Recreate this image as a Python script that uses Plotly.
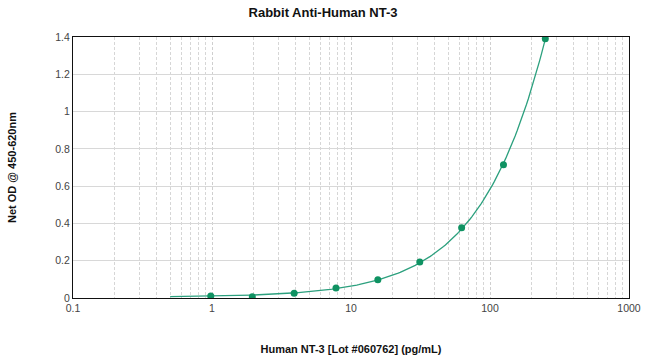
import numpy as np
import plotly.graph_objects as go

# Data
conc = [0.98, 1.95, 3.9, 7.8, 15.6, 31.25, 62.5, 125, 250]
od = [0.011, 0.007, 0.025, 0.054, 0.098, 0.193, 0.377, 0.715, 1.39]

x_ticks = [0.1, 1, 10, 100, 1000]
x_tick_labels = ["0.1", "1", "10", "100", "1000"]
y_ticks = [0, 0.2, 0.4, 0.6, 0.8, 1.0, 1.2, 1.4]
y_tick_labels = ["0", "0.2", "0.4", "0.6", "0.8", "1", "1.2", "1.4"]

# Fitted standard curve (quadratic fit of the standards)
coef = np.polyfit(conc, od, 2)
fit_x = np.logspace(np.log10(0.5), np.log10(max(conc)), 200)
fit_y = np.polyval(coef, fit_x)

line_color = "#2ca07e"
marker_color = "#0f9262"
font = "Liberation Sans, Arial, sans-serif"

fig = go.Figure()
fig.add_trace(go.Scatter(x=fit_x, y=fit_y, mode="lines",
                         line=dict(color=line_color, width=1.3),
                         hoverinfo="skip", showlegend=False))
fig.add_trace(go.Scatter(x=conc, y=od, mode="markers",
                         marker=dict(color=marker_color, size=7),
                         showlegend=False))

fig.update_layout(
    width=650, height=363,
    margin=dict(l=73, r=21, t=37, b=65, autoexpand=False),
    paper_bgcolor="white", plot_bgcolor="white",
    font=dict(family=font, size=10, color="#444"),
    title=dict(text="<b>Rabbit Anti-Human NT-3</b>", x=0.497, xanchor="center",
               y=0.967, yanchor="middle",
               font=dict(family=font, size=13, color="#111")),
)
fig.update_xaxes(
    type="log", range=[-1, 3], automargin=False,
    tickvals=x_ticks, ticktext=x_tick_labels,
    showline=True, linecolor="#111", linewidth=1.2, mirror=True,
    showgrid=True, gridcolor="#cfcfcf", griddash="3px,2px", gridwidth=1,
    minor=dict(dtick="D1", showgrid=True, gridcolor="#d6d6d6", griddash="3px,2px", gridwidth=1, ticks=""),
    ticks="", tickfont=dict(size=10.5, color="#444"),
    title=dict(text="<b>Human NT-3 [Lot #060762] (pg/mL)</b>", standoff=32,
               font=dict(family=font, size=11, color="#111")),
    zeroline=False,
)
fig.update_yaxes(
    range=[0, 1.4], automargin=False,
    tickvals=y_ticks, ticktext=y_tick_labels,
    showline=True, linecolor="#111", linewidth=1.2, mirror=True,
    showgrid=True, gridcolor="#d8d8d8", gridwidth=1,
    ticks="", tickfont=dict(size=10.5, color="#444"),
    title=dict(text="<b>Net OD @ 450-620nm</b>", standoff=36,
               font=dict(family=font, size=11, color="#111")),
    zeroline=False,
)

fig.write_html("out.html", config={"displayModeBar": False},
               post_script="document.body.style.margin='0';document.body.style.padding='0';")
